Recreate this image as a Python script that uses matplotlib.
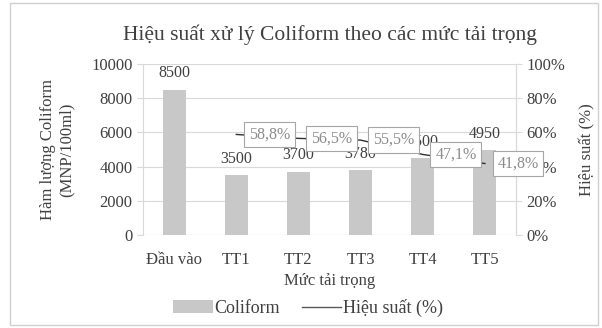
import numpy as np
import matplotlib.pyplot as plt
from matplotlib.patches import Rectangle, Patch
from matplotlib.lines import Line2D

plt.rcParams['font.family'] = ['Liberation Serif', 'DejaVu Serif']

# data
categories = ['Đầu vào', 'TT1', 'TT2', 'TT3', 'TT4', 'TT5']
coliform = [8500, 3500, 3700, 3780, 4500, 4950]
eff_cats = ['TT1', 'TT2', 'TT3', 'TT4', 'TT5']
efficiency = [58.8, 56.5, 55.5, 47.1, 41.8]
eff_labels = ['58,8%', '56,5%', '55,5%', '47,1%', '41,8%']

txt = '#404040'
grid_c = '#d9d9d9'

fig = plt.figure(figsize=(6.02, 3.28), dpi=100)
ax = fig.add_axes([143/602, 1 - 235/328, (516 - 143)/602, (235 - 64)/328])
fig.patches.append(Rectangle((10/602, 3/328), 588/602, 322/328, transform=fig.transFigure,
                             fill=False, edgecolor='#d0d0d0', linewidth=1))

x = np.arange(len(categories))
ax.bar(x, coliform, width=0.37, color='#c8c8c8', zorder=2)
for xi, v in zip(x, coliform):
    ax.annotate(str(v), (xi, v), xytext=(0, 6), textcoords='offset points',
                ha='center', va='bottom', fontsize=11.5, color=txt, zorder=3)

ax.set_ylim(0, 10000)
ax.set_yticks(np.arange(0, 10001, 2000))
ax.set_xlim(-0.5, len(categories) - 0.5)
ax.set_xticks(x)
ax.set_xticklabels(categories)
ax.grid(axis='y', color=grid_c, linewidth=0.8, zorder=0)
ax.set_axisbelow(True)
for s in ['top', 'bottom']:
    ax.spines[s].set_visible(False)
for s in ['left', 'right']:
    ax.spines[s].set_color(grid_c)
ax.axhline(0, color=grid_c, linewidth=0.8, zorder=1)
ax.tick_params(axis='y', colors=grid_c, labelcolor=txt, labelsize=12, length=4)
ax.tick_params(axis='x', length=0, labelcolor=txt, labelsize=12, pad=12)
ax.set_ylabel('Hàm lượng Coliform\n(MNP/100ml)', fontsize=12, color=txt, labelpad=12)
ax.set_xlabel('Mức tải trọng', fontsize=12, color=txt, labelpad=4)
ax.set_title('Hiệu suất xử lý Coliform theo các mức tải trọng', fontsize=15.5, color=txt, pad=17)

ax2 = ax.twinx()
ex = [categories.index(c) for c in eff_cats]
ax2.plot(ex, efficiency, color='#303030', linewidth=1, zorder=4)
ax2.set_ylim(0, 100)
ax2.set_yticks(np.arange(0, 101, 20))
ax2.set_yticklabels([f'{v}%' for v in range(0, 101, 20)])
ax2.tick_params(axis='y', colors=grid_c, labelcolor=txt, labelsize=12, length=4)
for s in ['top', 'bottom', 'left']:
    ax2.spines[s].set_visible(False)
ax2.spines['right'].set_color(grid_c)
ax2.set_ylabel('Hiệu suất (%)', fontsize=12, color=txt, labelpad=10)
for xi, v, lab in zip(ex, efficiency, eff_labels):
    ax2.annotate(lab, (xi, v), xytext=(9, 0), textcoords='offset points',
                 ha='left', va='center', fontsize=11.5, color='#8c8c8c', zorder=6,
                 bbox=dict(boxstyle='square,pad=0.3', fc='white', ec='#a6a6a6', lw=0.8))

handles = [Patch(facecolor='#c8c8c8', edgecolor='none'),
           Line2D([0], [0], color='#595959', linewidth=1)]
fig.legend(handles, ['Coliform', 'Hiệu suất (%)'], loc='center', bbox_to_anchor=(308/602, 1 - 308/328),
           ncol=2, frameon=False, fontsize=13, labelcolor=txt, handlelength=2.2,
           handletextpad=0.1, columnspacing=1.2)

fig.savefig('out.png', dpi=100)
